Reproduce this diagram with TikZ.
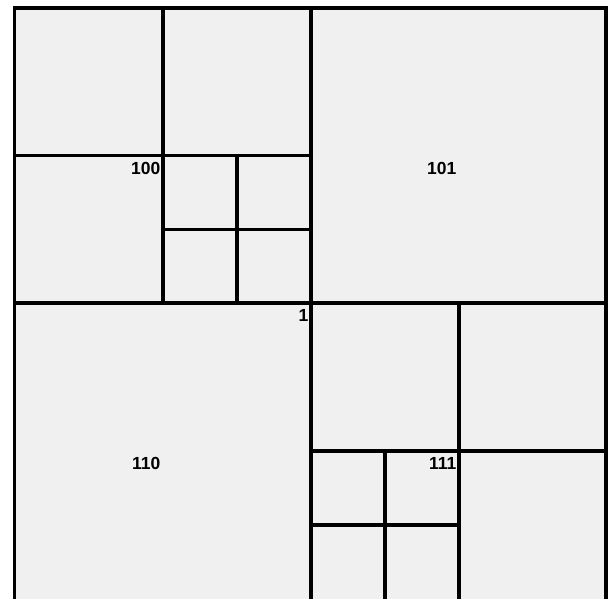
\documentclass[tikz,border=0pt]{standalone}
\usepackage{fontspec}
\setmainfont{Liberation Sans}
\definecolor{cellfill}{HTML}{F0F0F0}
\begin{document}
\begin{tikzpicture}[x=1pt,y=-1pt,
  grid/.style={line width=3.5pt, line cap=rect, black},
  lbl/.style={font=\bfseries\fontsize{17.5}{20}\selectfont, inner sep=0pt, anchor=base east}]
\useasboundingbox (0,0) rectangle (611,598);
\begin{scope}
  \clip (0,0) rectangle (611,598);
  \fill[cellfill] (14.5,8) rectangle (606,600);
  % outer frame (bottom edge lies outside the picture)
  \draw[grid] (14.5,602) -- (14.5,8) -- (606,8) -- (606,602);
  % main quadrants
  \draw[grid] (311,8) -- (311,602);
  \draw[grid] (14.5,303) -- (606,303);
  % quadrant 100
  \draw[grid] (163,8) -- (163,303);
  \draw[grid] (14.5,155.5) -- (311,155.5);
  \draw[grid] (237,155.5) -- (237,303);
  \draw[grid] (163,229.5) -- (311,229.5);
  % quadrant 111
  \draw[grid] (459,303) -- (459,602);
  \draw[grid] (311,451) -- (606,451);
  \draw[grid] (385,451) -- (385,602);
  \draw[grid] (311,525) -- (459,525);
\end{scope}
\node[lbl] (l100) at (160.5,174) {100};
\node[lbl] (l101) at (456.5,174) {101};
\node[lbl] (l1)   at (308.5,321.5) {1};
\node[lbl] (l110) at (160.5,469.5) {110};
\node[lbl] (l111) at (456.5,469.5) {111};
\end{tikzpicture}
\end{document}
